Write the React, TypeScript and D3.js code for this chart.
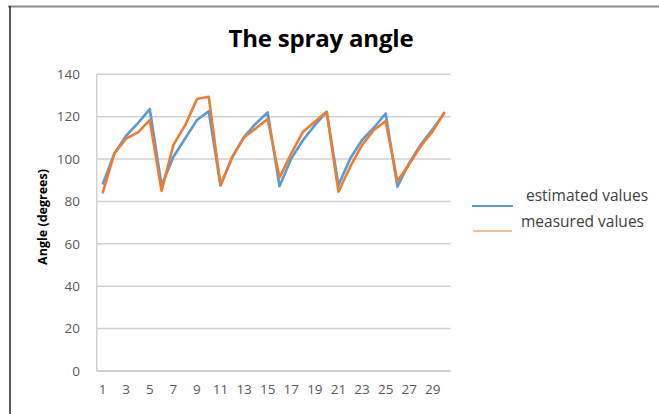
import React from "react";
import * as d3 from "d3";

const categories = d3.range(1, 31).map(String);
const estimated = [88, 102.7, 111, 117, 123.6, 87.5, 101, 109.7, 118.4, 122.6, 87.5, 101, 110.5, 116.8, 122, 87.2, 100.3, 109, 116, 122.3, 87.7, 100.3, 109, 114.8, 121.5, 87, 98.2, 107, 114.2, 121.8];
const measured = [83.8, 102.7, 109.7, 112.6, 118.4, 85, 106.6, 116, 128.3, 129.4, 87.7, 101, 110.3, 114.5, 118.9, 91.2, 102.7, 112.9, 117.6, 122.3, 84.6, 96.4, 106.6, 113.7, 117.9, 89.6, 97.6, 106.3, 113.2, 122.3];
const yTicks = [0, 20, 40, 60, 80, 100, 120, 140];
const xTickLabels = categories.filter((_, i) => i % 2 === 0);
const seriesNames = ["estimated values", "measured values"];
const seriesColors = ["#5B9BD5", "#ED7D31"];

export default function App() {
  const W = 659, H = 414;
  const left = 96.7, right = 450.5, top = 74.3, bottom = 371;
  const x = d3.scaleBand<string>().domain(categories).range([left, right]);
  const y = d3.scaleLinear().domain([0, 140]).range([bottom, top]);
  const cx = (c: string) => (x(c) as number) + x.bandwidth() / 2;
  const line = d3.line<number>().x((_, i) => cx(categories[i])).y((d) => y(d));
  const font = "'Open Sans', sans-serif";
  return (
    <svg width={W} height={H} style={{ position: "absolute", left: 0, top: 0, background: "#fff" }}>
      <line x1={8} x2={W} y1={6.5} y2={6.5} stroke="#8a8a8a" strokeWidth={2} />
      <line x1={10} x2={10} y1={6} y2={H} stroke="#222" strokeWidth={1.5} />
      <text x={321} y={47} textAnchor="middle" fontFamily={font} fontWeight="bold" fontSize={24} fill="#000" letterSpacing={-0.2}>The spray angle</text>
      {yTicks.map((t) => (
        <g key={t}>
          <line x1={left} x2={right} y1={y(t)} y2={y(t)} stroke={t === 0 ? "#bfbfbf" : "#d0d0d0"} strokeWidth={1.5} />
          <text x={80} y={y(t)} dy="0.35em" textAnchor="end" fontFamily={font} fontSize={13.5} fill="#595959">{t}</text>
        </g>
      ))}
      <line x1={left} x2={left} y1={top} y2={bottom} stroke="#d0d0d0" strokeWidth={1.5} />
      {xTickLabels.map((c) => (
        <text key={c} x={cx(c)} y={394} textAnchor="middle" fontFamily={font} fontSize={13.5} fill="#595959">{c}</text>
      ))}
      <text transform={`translate(47,217) rotate(-90)`} textAnchor="middle" fontFamily={font} fontWeight="bold" fontSize={12.5} fill="#000">Angle (degrees)</text>
      <path d={line(estimated) || ""} fill="none" stroke={seriesColors[0]} strokeWidth={2.6} strokeLinejoin="round" />
      <path d={line(measured) || ""} fill="none" stroke={seriesColors[1]} strokeWidth={2.6} strokeLinejoin="round" />
      <line x1={472} x2={513} y1={206} y2={206} stroke={seriesColors[0]} strokeWidth={2} />
      <text x={526} y={201} fontFamily={font} fontSize={15.5} fill="#404040">{seriesNames[0]}</text>
      <line x1={473} x2={512} y1={231} y2={231} stroke={seriesColors[1]} strokeWidth={1.2} />
      <text x={521} y={227} fontFamily={font} fontSize={15.5} fill="#404040">{seriesNames[1]}</text>
    </svg>
  );
}
